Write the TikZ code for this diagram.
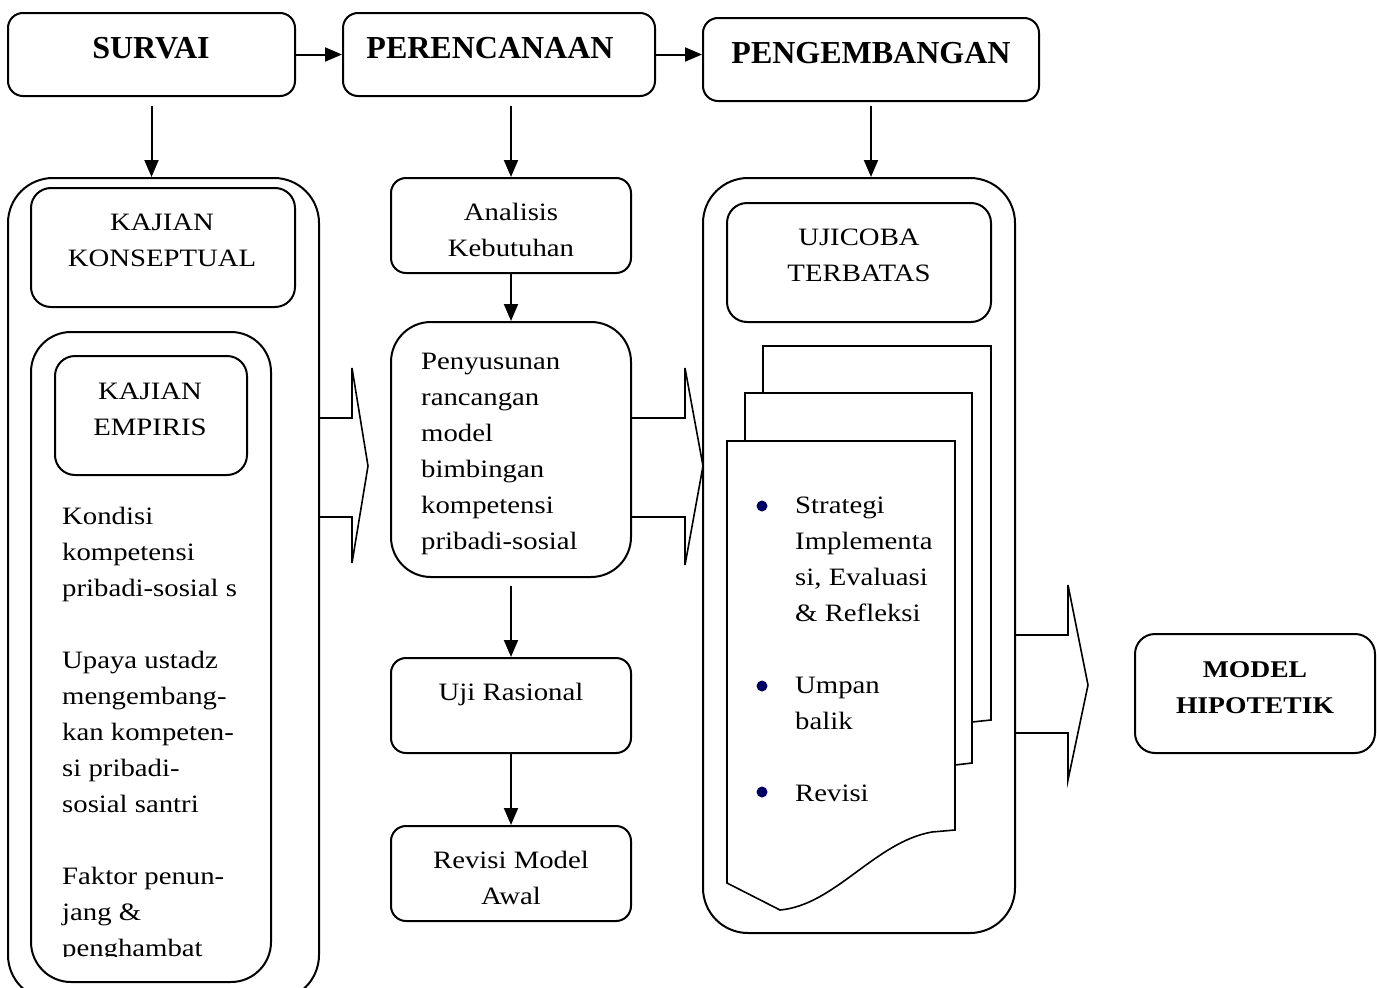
\documentclass[tikz,border=0pt]{standalone}
\usepackage{fontspec}
\setmainfont{Liberation Serif}[FakeStretch=1.15]
\newfontfamily\headfont{Liberation Serif}
\usetikzlibrary{arrows.meta,calc}
\definecolor{bulletblue}{RGB}{0,0,100}
\newcommand\myst{\rule{0pt}{20pt}}
\begin{document}
\begin{tikzpicture}[x=1pt,y=-1pt,
  box/.style={draw,line width=2pt,inner sep=0pt},
  txt/.style={font=\fontsize{25}{36}\selectfont,inner sep=0pt},
  btxt/.style={font=\bfseries\fontsize{24}{36}\selectfont,inner sep=0pt},
  head/.style={font=\headfont\bfseries\fontsize{32}{38}\selectfont,inner sep=0pt,anchor=base},
  arr/.style={line width=2pt,-{Triangle[length=17pt,width=14pt]}},
  blk/.style={line width=1.6pt,line join=miter},
  doc/.style={line width=1.6pt,fill=white}]
\useasboundingbox (0,0) rectangle (1377,988);
% top row
\node[box,rounded corners=15pt,minimum width=287pt,minimum height=83pt] (survai) at (151.5,54.5) {};
\node[box,rounded corners=15pt,minimum width=312pt,minimum height=83pt] (peren) at (499,54.5) {};
\node[box,rounded corners=15pt,minimum width=336pt,minimum height=83pt] (peng) at (871,59.5) {};
\node[head] (tsurvai) at (151,58) {SURVAI};
\node[head] (tperen) at (490,58) {PERENCANAAN};
\node[head] (tpeng) at (871,63) {PENGEMBANGAN};
% left column
\node[box,rounded corners=45pt,minimum width=311pt,minimum height=822pt] (lout) at (163.5,589) {};
\node[box,rounded corners=20pt,minimum width=264pt,minimum height=119pt] (konsep) at (163,247.5) {};
\node[box,rounded corners=40pt,minimum width=240pt,minimum height=650pt] (lin) at (151,657) {};
\node[box,rounded corners=20pt,minimum width=192pt,minimum height=119pt] (empiris) at (151,415.5) {};
\node[txt,align=center,anchor=north] (tkonsep) at (162,210) {\myst KAJIAN\\KONSEPTUAL};
\node[txt,align=center,anchor=north] (tempiris) at (150,379) {\myst KAJIAN\\EMPIRIS};
\begin{scope}
\clip (40,480) rectangle (268,956);
\node[txt,align=left,anchor=north west] (tleft) at (62,504) {\myst Kondisi\\kompetensi\\pribadi-sosial s\\[36pt]Upaya ustadz\\mengembang-\\kan kompeten-\\si pribadi-\\sosial santri\\[36pt]Faktor penun-\\jang \&\\penghambat};
\end{scope}
% middle column
\node[box,rounded corners=15pt,minimum width=240pt,minimum height=95pt] (analisis) at (511,225.5) {};
\node[box,rounded corners=40pt,minimum width=240pt,minimum height=255pt] (susun) at (511,449.5) {};
\node[box,rounded corners=15pt,minimum width=240pt,minimum height=95pt] (uji) at (511,705.5) {};
\node[box,rounded corners=15pt,minimum width=240pt,minimum height=95pt] (revisi) at (511,873.5) {};
\node[txt,align=center,anchor=north] (tanalisis) at (511,200) {\myst Analisis\\Kebutuhan};
\node[txt,align=left,anchor=north west] (tsusun) at (421,349) {\myst Penyusunan\\rancangan\\model\\bimbingan\\kompetensi\\pribadi-sosial};
\node[txt,align=center,anchor=north] (tuji) at (511,680) {\myst Uji Rasional};
\node[txt,align=center,anchor=north] (trevisi) at (511,848) {\myst Revisi Model\\Awal};
% right column
\node[box,rounded corners=45pt,minimum width=312pt,minimum height=755pt] (rout) at (859,555.5) {};
\node[box,rounded corners=20pt,minimum width=264pt,minimum height=119pt] (ujicoba) at (859,262.5) {};
\node[txt,align=center,anchor=north] (tujicoba) at (859,225) {\myst UJICOBA\\TERBATAS};
% document stack
\draw[doc] (763,393) -- (763,346) -- (991,346) -- (991,720) -- (972,722) -- (972,393) -- cycle;
\draw[doc] (745,441) -- (745,393) -- (972,393) -- (972,763) -- (955,765) -- (955,441) -- cycle;
\draw[doc] (727,441) -- (955,441) -- (955,830) -- (932,832) .. controls (875,842) and (835,905) .. (780,910) -- (727,883) -- cycle;
\fill[bulletblue] (762,506) circle (5.5pt);
\fill[bulletblue] (762,686) circle (5.5pt);
\fill[bulletblue] (762,792) circle (5.5pt);
\node[txt,align=left,anchor=north west] (tlist) at (795,493) {\myst Strategi\\Implementa\\si, Evaluasi\\\& Refleksi\\[36pt]Umpan\\balik\\[36pt]Revisi};
% model
\node[box,rounded corners=20pt,minimum width=240pt,minimum height=119pt] (model) at (1255,693.5) {};
\node[btxt,align=center,anchor=north] (tmodel) at (1255,657) {\myst MODEL\\HIPOTETIK};
% arrows
\draw[arr] (survai.east) -- (survai.east -| peren.west);
\draw[arr] (peren.east) -- (peren.east -| peng.west);
\draw[arr] ($(survai.south)+(0,9)$) -- (survai.south |- lout.north);
\draw[arr] ($(analisis.north |- peren.south)+(0,9)$) -- (analisis.north);
\draw[arr] ($(peng.south)+(0,4)$) -- (peng.south |- rout.north);
\draw[arr] (analisis.south) -- (susun.north);
\draw[arr] ($(susun.south)+(0,8)$) -- (uji.north);
\draw[arr] (uji.south) -- (revisi.north);
% block arrows
\draw[blk] (lout.east |- 0,418) -- (352,418) -- (352,368) -- (368,466) -- (352,563) -- (352,517) -- (lout.east |- 0,517);
\draw[blk] (susun.east |- 0,418) -- (685,418) -- (685,368) -- (703,466) -- (685,565) -- (685,517) -- (susun.east |- 0,517);
\draw[blk] (rout.east |- 0,635) -- (1068,635) -- (1068,585) -- (1088,685) -- (1068,780) -- (1068,733) -- (rout.east |- 0,733);
\end{tikzpicture}
\end{document}
